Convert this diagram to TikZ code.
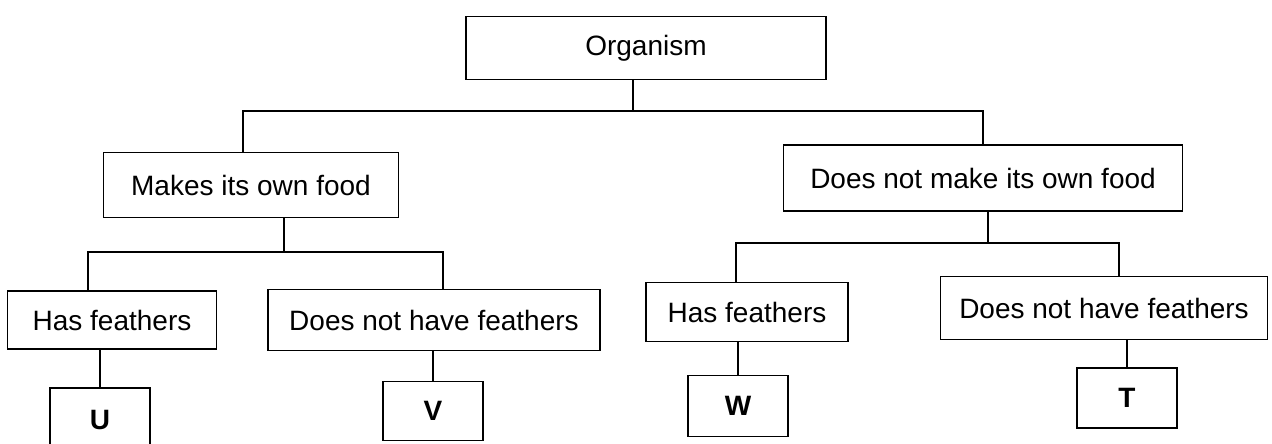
\documentclass[tikz,border=0pt]{standalone}
\usepackage{fontspec}
\setmainfont{Liberation Sans}
\usetikzlibrary{positioning}

\begin{document}
\begin{tikzpicture}[
  x=1pt,y=-1pt,
  box/.style={rectangle,draw=black,line width=1.8pt,align=center,inner sep=0pt,font=\fontsize{28}{32}\selectfont},
  leaf/.style={box,minimum width=100pt,minimum height=60pt,font=\fontsize{28}{32}\selectfont\bfseries},
  link/.style={draw=black,line width=1.5pt}
]
\useasboundingbox (0,0) rectangle (1272,444);
\node[box,minimum width=360pt,minimum height=63pt] (org) at (646,48) {Organism};
\node[box,minimum width=295pt,minimum height=65pt] (mkfood) at (251,185) {Makes its own food};
\node[box,minimum width=399pt,minimum height=66pt] (nofood) at (983,178) {Does not make its own food};
\node[box,minimum width=209pt,minimum height=58pt] (featA) at (112,320) {Has feathers};
\node[box,minimum width=332pt,minimum height=61pt] (nofeatA) at (434,320) {Does not have feathers};
\node[box,minimum width=202pt,minimum height=59pt] (featB) at (747,312) {Has feathers};
\node[box,minimum width=327pt,minimum height=63pt] (nofeatB) at (1104,308) {Does not have feathers};
\node[leaf,minimum height=64pt] (u) at (100,420) {U};
\node[leaf,minimum height=59pt] (v) at (433,411) {V};
\node[leaf,minimum height=61pt] (w) at (738,406) {W};
\node[leaf] (t) at (1127,398) {T};
% first split
\coordinate (topbus) at (633,111);
\draw[link] (org.south -| topbus) -- (topbus);
\draw[link] ([xshift=-8pt]mkfood.north) |- (topbus) -| (nofood.north);
% makes its own food
\coordinate (mkbus) at (284,252);
\draw[link] (mkfood.south -| mkbus) -- (mkbus);
\draw[link] ([xshift=-24pt]featA.north) |- (mkbus) -| ([xshift=9pt]nofeatA.north);
% does not make its own food
\coordinate (nobus) at (988,243);
\draw[link] (nofood.south -| nobus) -- (nobus);
\draw[link] ([xshift=-11pt]featB.north) |- (nobus) -| ([xshift=15pt]nofeatB.north);
% leaves
\draw[link] (featA.south -| u.north) -- (u.north);
\draw[link] (nofeatA.south -| v.north) -- (v.north);
\draw[link] (featB.south -| w.north) -- (w.north);
\draw[link] (nofeatB.south -| t.north) -- (t.north);
\end{tikzpicture}
\end{document}
